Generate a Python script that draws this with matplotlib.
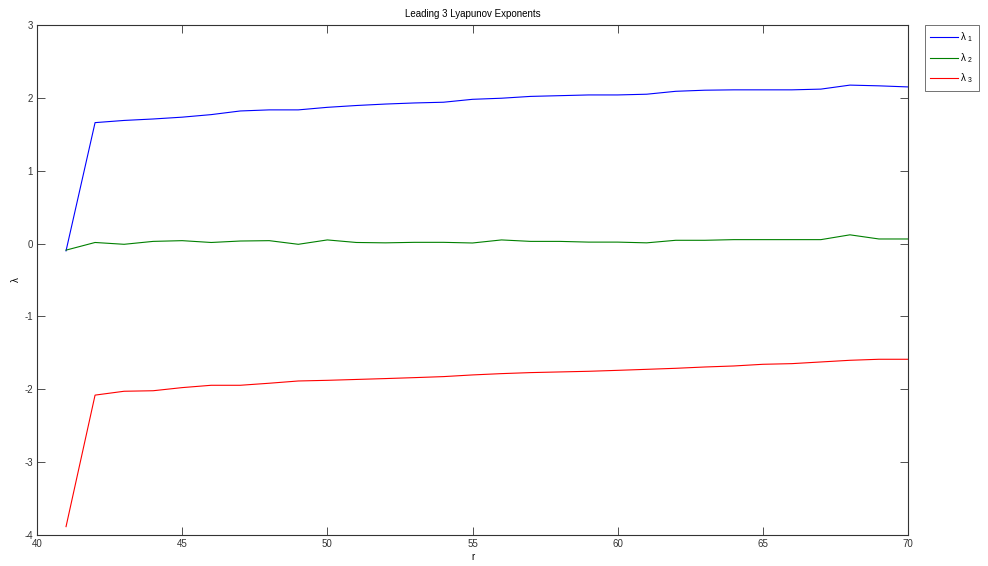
import matplotlib
matplotlib.use("Agg")
import matplotlib.pyplot as plt
import numpy as np

r = np.arange(41, 71)

lam1 = [-0.10, 1.66, 1.69, 1.71, 1.735, 1.77, 1.82, 1.835, 1.835, 1.87,
        1.895, 1.915, 1.93, 1.94, 1.98, 1.995, 2.02, 2.03, 2.04, 2.04,
        2.05, 2.09, 2.105, 2.11, 2.11, 2.11, 2.12, 2.175, 2.165, 2.15]
lam2 = [-0.09, 0.015, -0.01, 0.03, 0.04, 0.015, 0.035, 0.04, -0.01, 0.05,
        0.015, 0.01, 0.017, 0.017, 0.008, 0.05, 0.03, 0.03, 0.02, 0.02,
        0.01, 0.045, 0.045, 0.054, 0.054, 0.054, 0.054, 0.12, 0.063, 0.063]
lam3 = [-3.885, -2.08, -2.027, -2.02, -1.977, -1.945, -1.945, -1.917, -1.886, -1.877,
        -1.865, -1.853, -1.84, -1.826, -1.803, -1.785, -1.771, -1.762, -1.753, -1.74,
        -1.726, -1.712, -1.694, -1.68, -1.657, -1.648, -1.625, -1.602, -1.588, -1.588]

plt.rcParams['font.family'] = ['Liberation Sans', 'DejaVu Sans']
plt.rcParams['font.size'] = 7
plt.rcParams['axes.unicode_minus'] = False
plt.rcParams['mathtext.default'] = 'regular'

fig = plt.figure(figsize=(9.88, 5.66), dpi=100)
ax = fig.add_axes([37/988, 1-535/566, (908-37)/988, (535-25)/566])

ax.plot(r, lam1, color='#0000ff', lw=0.8, label='λ$_{\\ 1}$')
ax.plot(r, lam2, color='#008000', lw=0.8, label='λ$_{\\ 2}$')
ax.plot(r, lam3, color='#ff0000', lw=0.8, label='λ$_{\\ 3}$')

ax.set_xlim(40, 70)
ax.set_ylim(-4, 3)
ax.set_xticks(np.arange(40, 71, 5))
ax.set_yticks(np.arange(-4, 4, 1))
ax.tick_params(direction='in', length=6, width=0.6, top=True, right=True,
               labelsize=7, colors='#333333', pad=3)
for s in ax.spines.values():
    s.set_linewidth(0.8)
    s.set_color('#333333')

ax.set_title('Leading 3 Lyapunov Exponents', fontsize=7, pad=6)
ax.set_xlabel('r', fontsize=7, labelpad=2)
ax.set_ylabel('λ', fontsize=7, labelpad=2)

leg = ax.legend(loc='upper left', bbox_to_anchor=(1.0195, 1.0), fontsize=7,
                frameon=True, fancybox=False, handlelength=2.8, borderpad=0.55,
                labelspacing=0.7, handletextpad=0.3, borderaxespad=0)
leg.get_frame().set_edgecolor('#333333')
leg.get_frame().set_linewidth(0.6)

fig.savefig('out.png', dpi=100, facecolor='white')
